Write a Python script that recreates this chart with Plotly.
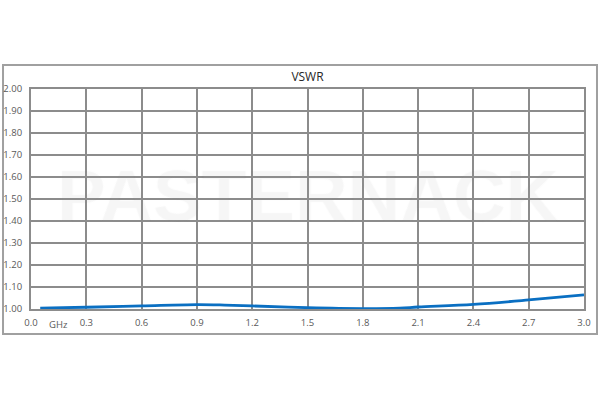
import plotly.graph_objects as go

freq_ghz = [0.05, 0.3, 0.6, 0.9, 1.05, 1.2, 1.5, 1.8, 2.0, 2.1, 2.4, 2.7, 3.0]
vswr = [1.004, 1.008, 1.014, 1.020, 1.018, 1.014, 1.006, 1.002, 1.004, 1.009, 1.021, 1.041, 1.064]

x_ticks = [0.0, 0.3, 0.6, 0.9, 1.2, 1.5, 1.8, 2.1, 2.4, 2.7, 3.0]
x_labels = ["0.0", "0.3", "0.6", "0.9", "1.2", "1.5", "1.8", "2.1", "2.4", "2.7", "3.0"]
y_ticks = [1.0, 1.1, 1.2, 1.3, 1.4, 1.5, 1.6, 1.7, 1.8, 1.9, 2.0]
y_labels = ["%.2f" % v for v in y_ticks]

grid = "#8c8c8c"
fig = go.Figure()
fig.add_trace(go.Scatter(x=freq_ghz, y=vswr, mode="lines", line=dict(color="#0a6fc2", width=2.8, shape="spline"),
                         showlegend=False, hoverinfo="skip"))

fig.update_layout(
    width=600, height=400,
    margin=dict(l=31, r=16, t=89, b=91, autoexpand=False),
    paper_bgcolor="white", plot_bgcolor="white",
    font=dict(family="Open Sans, Liberation Sans, sans-serif", color="#595959", size=10),
    title=dict(text="VSWR", x=(31 + 584) / 2 / 600, xanchor="center", y=1 - 77 / 400, yanchor="middle",
               font=dict(size=12, color="#262626")),
    xaxis=dict(range=[0, 3], tickvals=x_ticks, ticktext=x_labels, showgrid=True, gridcolor=grid, gridwidth=2,
               showline=True, linecolor=grid, linewidth=2, mirror=True, zeroline=False, automargin=False,
               ticks="outside", ticklen=4, tickcolor="rgba(0,0,0,0)", tickfont=dict(size=9.5)),
    yaxis=dict(range=[1, 2], tickvals=y_ticks, ticktext=y_labels, showgrid=True, gridcolor=grid, gridwidth=2,
               showline=True, linecolor=grid, linewidth=2, mirror=True, zeroline=False, automargin=False,
               ticks="outside", ticklen=5, tickcolor="rgba(0,0,0,0)", tickfont=dict(size=9.5)),
    shapes=[dict(type="rect", xref="paper", yref="paper", x0=-0.0506, x1=1.0235, y0=-0.1136, y1=1.109,
                 line=dict(color="#a0a0a0", width=2), fillcolor="rgba(0,0,0,0)", layer="below")],
    annotations=[
        dict(text="GHz", x=0.15, y=0, xref="x", yref="paper", yanchor="top", yshift=-7, showarrow=False,
             font=dict(size=9.5, color="#595959")),
        dict(text="<b>PASTERNACK</b>", x=0.5, y=0.514, xref="paper", yref="paper", showarrow=False,
             font=dict(family="Liberation Sans, Arial, sans-serif", size=73, color="rgba(0,0,0,0.018)",
                       shadow="1px 0 0 #dedede, -1px 0 0 #dedede, 0 1px 0 #dedede, 0 -1px 0 #dedede")),
    ],
)
fig.write_html("out.html", config={"displayModeBar": False},
               post_script="document.body.style.margin='0';")
